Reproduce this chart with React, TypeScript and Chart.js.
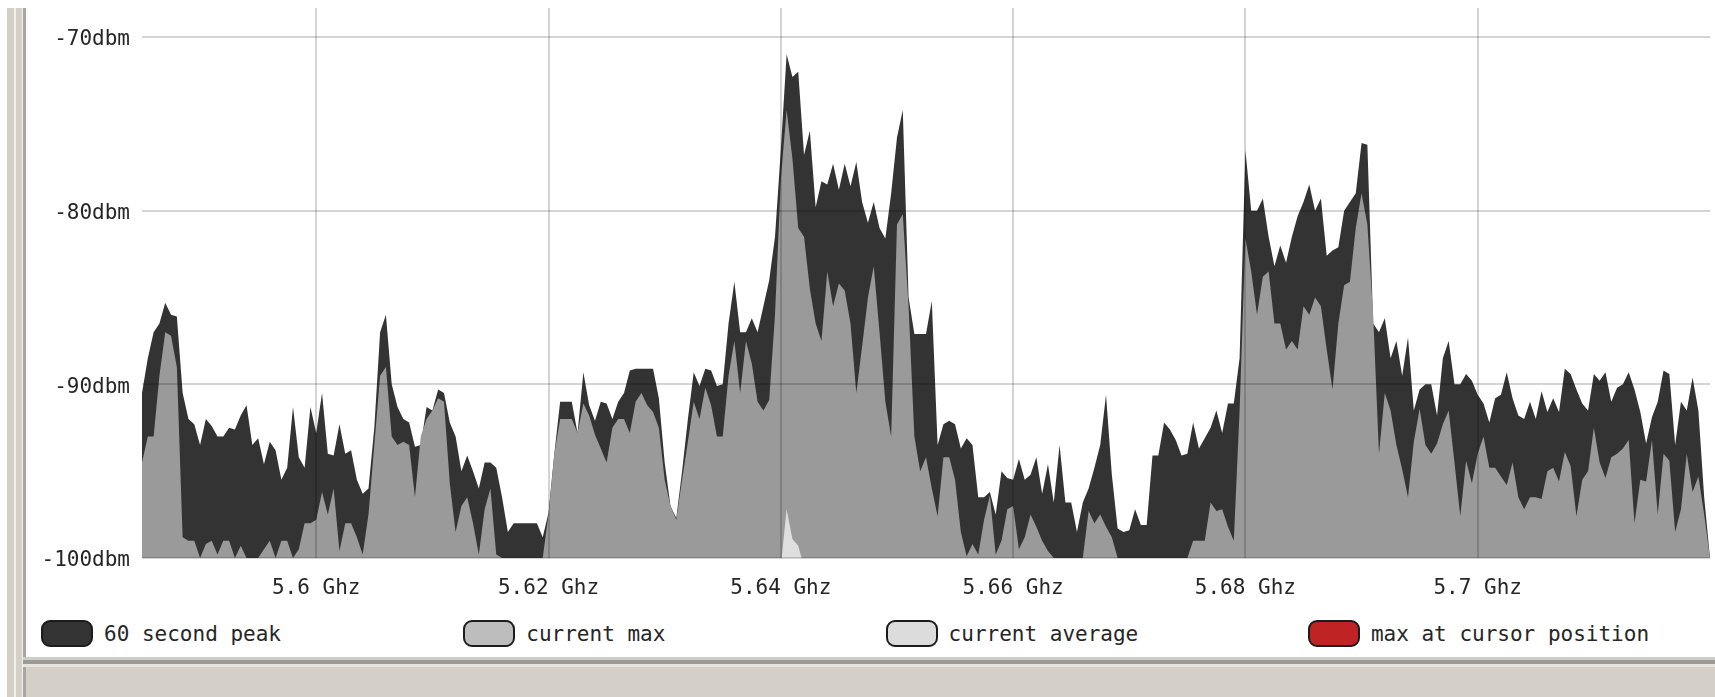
import { useEffect, useRef } from 'react';
import { Chart, registerables } from 'chart.js';

Chart.register(...registerables);

// Spectrum sweep: one sample every 0.5 MHz from 5585 MHz to 5720 MHz.
const FREQ_START_MHZ = 5585;
const FREQ_STEP_MHZ = 0.5;

// 60 second peak hold (dBm)
const peak60s = [
  -90.5, -88.5, -87, -86.5, -85.3, -86, -86.1, -90.5, -92, -92.3,
  -93.5, -92, -92.4, -93, -93, -92.5, -92.6, -91.8, -91.2, -93.5,
  -93.1, -94.6, -93.3, -93.8, -95.5, -94.8, -91.3, -94.2, -94.8, -91.3,
  -92.8, -90.5, -94, -94.1, -92.3, -94, -93.8, -95.5, -96.3, -96,
  -92.5, -87, -86, -90, -91.3, -92, -92.2, -93.6, -93.5, -91.3,
  -91.5, -90.3, -90.5, -92.2, -93, -95, -94.1, -95, -96, -94.5,
  -94.5, -94.8, -96.5, -98.5, -98, -98, -98, -98, -98, -98.8,
  -97.4, -94, -91, -91, -91, -92.8, -89.3, -91.2, -92.1, -91,
  -91.1, -92, -91, -90.5, -89.2, -89.1, -89.1, -89.1, -89.1, -90.8,
  -94.5, -97, -97.7, -95, -92, -89.3, -90.1, -89.1, -89.2, -90.1,
  -90, -86.5, -84.1, -87, -87, -86.2, -87, -85.5, -84, -81.5,
  -76.5, -71, -72.3, -72, -76.8, -75.4, -79.8, -78.3, -78.5, -77.3,
  -78.8, -77.3, -78.6, -77.2, -79.5, -80.7, -79.5, -81, -81.6, -79,
  -75.8, -74.2, -85, -87.1, -87.1, -87.1, -85.2, -93.5, -92.3, -92.1,
  -92.3, -93.7, -93.1, -93.5, -96.5, -96.5, -96.2, -97.5, -95, -95.4,
  -95.5, -94.3, -95.5, -95.2, -94.2, -96.3, -94.6, -96.8, -93.5, -96.8,
  -96.8, -98.5, -96.8, -96, -94.8, -93.5, -90.6, -95.2, -98.3, -98.5,
  -98.4, -97.2, -98.1, -98.1, -94.1, -94.1, -92.2, -92.6, -93.2, -94.1,
  -94, -92.2, -93.7, -93.1, -92.5, -91.5, -92.8, -91.1, -91.1, -88.5,
  -76.5, -80, -80, -79.3, -81.5, -83.2, -82, -83, -81.5, -80.3,
  -79.5, -78.5, -80, -79.3, -82.6, -82.3, -82.1, -80, -79.5, -79,
  -76.1, -76.2, -86.5, -87, -86.2, -88.5, -87.5, -89.5, -87.3, -91.5,
  -90.3, -90, -90, -91.8, -88.5, -87.5, -90, -90, -89.4, -89.8,
  -90.6, -91.1, -92.2, -90.8, -90.6, -89.3, -90.8, -91.8, -92, -91,
  -92, -90.4, -91.6, -90.8, -91.6, -89.1, -89.4, -90.3, -91.1, -91.5,
  -89.4, -89.8, -89.3, -91, -90.2, -90, -89.3, -90.3, -91.6, -93.4,
  -91.9, -91, -89.2, -89.4, -93.5, -91, -91.5, -89.6, -91.5, -96.5,
  -100,
];

// Current sweep maximum (dBm)
const currentMax = [
  -94.5, -93, -93, -89.5, -87, -87.2, -89, -98.8, -99, -99,
  -100, -99.2, -99, -99.8, -99, -99, -100, -99.3, -100, -100,
  -100, -99.5, -99, -100, -99, -99, -100, -99.5, -98, -98,
  -97.8, -96.2, -97.5, -96, -99.6, -98, -98, -98.8, -99.8, -97.5,
  -93.5, -89.5, -89, -93, -93.5, -93.3, -93.5, -96.5, -93, -92,
  -91.5, -90.8, -91, -95.7, -98.5, -97, -96.5, -98, -99.8, -97.2,
  -96, -99.8, -100, -100, -100, -100, -100, -100, -100, -100,
  -97.5, -94, -92, -92, -92, -92.8, -91.1, -91.8, -92.9, -93.7,
  -94.5, -92.5, -92, -92, -92.8, -91, -90.5, -91.2, -91.6, -92.5,
  -95.5, -97, -97.8, -95.5, -93.3, -91, -92, -90.2, -91.2, -93,
  -93, -89.5, -87.5, -90.5, -87.5, -88.8, -91, -91.5, -90.9, -86,
  -78.2, -74.2, -77, -81, -81.5, -84.5, -86.5, -87.5, -83.5, -85.5,
  -84.2, -84.6, -86.5, -90.5, -87.8, -85, -83.2, -87, -91, -93,
  -80.8, -80.2, -85.5, -93, -95, -94.2, -96, -97.6, -94.2, -94.2,
  -95.5, -98.5, -99.9, -99.2, -99.8, -97.8, -96.4, -99.8, -99, -97.2,
  -97, -99.5, -98.8, -97.5, -98.2, -99, -99.6, -100, -100, -100,
  -100, -100, -100, -97.3, -98, -97.5, -98.2, -98.8, -100, -100,
  -100, -100, -100, -100, -100, -100, -100, -100, -100, -100,
  -100, -99, -99, -99, -96.8, -97.3, -97.2, -98.2, -99, -91.5,
  -81.6, -83.5, -86, -83.8, -83.5, -86.5, -86.5, -88, -87.5, -88,
  -85.5, -86, -85, -85.5, -88, -90.3, -86.5, -84.3, -84.1, -81,
  -79, -80.8, -86, -94, -90.5, -91.5, -93.5, -94.9, -96.5, -93.3,
  -91.4, -93.5, -94, -93.4, -92.3, -91.5, -94.5, -97.6, -94.4, -95.7,
  -94, -93, -94.8, -94.8, -95.3, -95.8, -94.5, -96.5, -97.2, -96.5,
  -96.5, -96.6, -95, -94.8, -95.6, -93.9, -94.7, -97.6, -95.5, -95,
  -92.5, -94.5, -95.4, -94.2, -94, -93.7, -93.2, -98, -95.5, -95.6,
  -93.2, -97.5, -94, -94.4, -98.5, -97.2, -94, -96.2, -95.3, -97.5,
  -100,
];

// Current average: only rises above the floor around 5.64 GHz
const avgFreqs = [5640, 5640.5, 5641, 5641.5, 5642];
const currentAverage = [-100.5, -97.2, -98.9, -99.3, -100.5];

const xTickValues = [5600, 5620, 5640, 5660, 5680, 5700];
const xTickLabels = ['5.6 Ghz', '5.62 Ghz', '5.64 Ghz', '5.66 Ghz', '5.68 Ghz', '5.7 Ghz'];
const yTickValues = [-70, -80, -90, -100];
const yTickLabels = ['-70dbm', '-80dbm', '-90dbm', '-100dbm'];

const legendLabels = ['60 second peak', 'current max', 'current average', 'max at cursor position'];
const legendColors = ['#333333', '#bdbdbd', '#dcdcdc', '#c02323'];

const FONT = '"DejaVu Sans Mono", monospace';
const TEXT_COLOR = '#262626';
const GRID_COLOR = 'rgba(0,0,0,0.17)';

function toPoints(values: number[]) {
  return values.map((y, i) => ({ x: FREQ_START_MHZ + i * FREQ_STEP_MHZ, y }));
}

function SpectrumChart() {
  const canvasRef = useRef<HTMLCanvasElement | null>(null);

  useEffect(() => {
    const canvas = canvasRef.current;
    if (!canvas) return;
    const chart = new Chart(canvas, {
      type: 'line',
      data: {
        datasets: [
          {
            label: 'current average',
            data: avgFreqs.map((x, i) => ({ x, y: currentAverage[i] })),
            backgroundColor: '#dedede',
            borderColor: 'transparent',
            fill: 'start',
            order: 0,
          },
          {
            label: 'current max',
            data: toPoints(currentMax),
            backgroundColor: '#9a9a9a',
            borderColor: 'transparent',
            fill: 'start',
            order: 1,
          },
          {
            label: '60 second peak',
            data: toPoints(peak60s),
            backgroundColor: '#333333',
            borderColor: 'transparent',
            fill: 'start',
            order: 2,
          },
        ],
      },
      options: {
        animation: false,
        responsive: false,
        devicePixelRatio: 1,
        events: [],
        elements: {
          line: { borderWidth: 0, tension: 0 },
          point: { radius: 0, hoverRadius: 0 },
        },
        layout: { padding: { top: 8, right: 5, left: 0, bottom: 0 } },
        plugins: {
          legend: { display: false },
          tooltip: { enabled: false },
        },
        scales: {
          x: {
            type: 'linear',
            min: 5585,
            max: 5720,
            afterBuildTicks: (scale: any) => {
              scale.ticks = xTickValues.map((value) => ({ value }));
            },
            afterFit: (scale: any) => {
              scale.height = 42;
              scale.paddingLeft = 0;
              scale.paddingRight = 0;
            },
            ticks: {
              autoSkip: false,
              maxRotation: 0,
              minRotation: 0,
              padding: 18,
              color: TEXT_COLOR,
              font: { family: FONT, size: 21 },
              callback: (_v: any, i: number) => xTickLabels[i],
            },
            grid: { color: GRID_COLOR, lineWidth: 2, drawTicks: false, z: 1 },
            border: { display: false },
          },
          y: {
            type: 'linear',
            min: -100,
            max: -68.33,
            afterBuildTicks: (scale: any) => {
              scale.ticks = yTickValues.map((value) => ({ value }));
            },
            afterFit: (scale: any) => {
              scale.width = 142;
              scale.paddingTop = 0;
              scale.paddingBottom = 0;
            },
            ticks: {
              padding: 12,
              labelOffset: 3,
              color: TEXT_COLOR,
              font: { family: FONT, size: 21 },
              callback: (_v: any, i: number) => yTickLabels[i],
            },
            grid: { color: GRID_COLOR, lineWidth: 2, drawTicks: false, z: 1 },
            border: { display: false },
          },
        },
      },
    });
    return () => chart.destroy();
  }, []);

  return (
    <canvas
      ref={canvasRef}
      width={1715}
      height={600}
      style={{ position: 'absolute', left: 0, top: 0, width: 1715, height: 600 }}
    />
  );
}

function Legend() {
  return (
    <>
      {legendLabels.map((label, k) => {
        const left = 41 + k * 422.3;
        return (
          <div key={label}>
            <div
              style={{
                position: 'absolute',
                left,
                top: 620,
                width: 52,
                height: 27,
                boxSizing: 'border-box',
                border: '2px solid #1c1c1c',
                borderRadius: 9,
                background: legendColors[k],
              }}
            />
            <div
              style={{
                position: 'absolute',
                left: left + 63,
                top: 634,
                transform: 'translateY(-50%)',
                font: `21px ${FONT}`,
                lineHeight: 1,
                color: TEXT_COLOR,
                whiteSpace: 'nowrap',
              }}
            >
              {label}
            </div>
          </div>
        );
      })}
    </>
  );
}

function WindowFrame() {
  const bar = (left: number, top: number, width: number, height: number, background: string) => (
    <div style={{ position: 'absolute', left, top, width, height, background }} />
  );
  return (
    <>
      {bar(7, 8, 16, 689, '#d4d0c8')}
      {bar(14, 8, 2, 689, '#f2f0ec')}
      {bar(22, 8, 1, 689, '#f2f0ec')}
      {bar(23, 8, 3, 689, '#a9a69f')}
      {bar(23, 657, 1692, 3, '#cfcdc8')}
      {bar(23, 660, 1692, 4, '#9c9a95')}
      {bar(23, 664, 1692, 3, '#e6e4df')}
      {bar(26, 667, 1689, 30, '#d4d0c8')}
    </>
  );
}

export default function App() {
  return (
    <div
      style={{
        position: 'fixed',
        left: 0,
        top: 0,
        width: 1715,
        height: 697,
        background: '#ffffff',
        overflow: 'hidden',
      }}
    >
      <WindowFrame />
      <SpectrumChart />
      <Legend />
    </div>
  );
}
